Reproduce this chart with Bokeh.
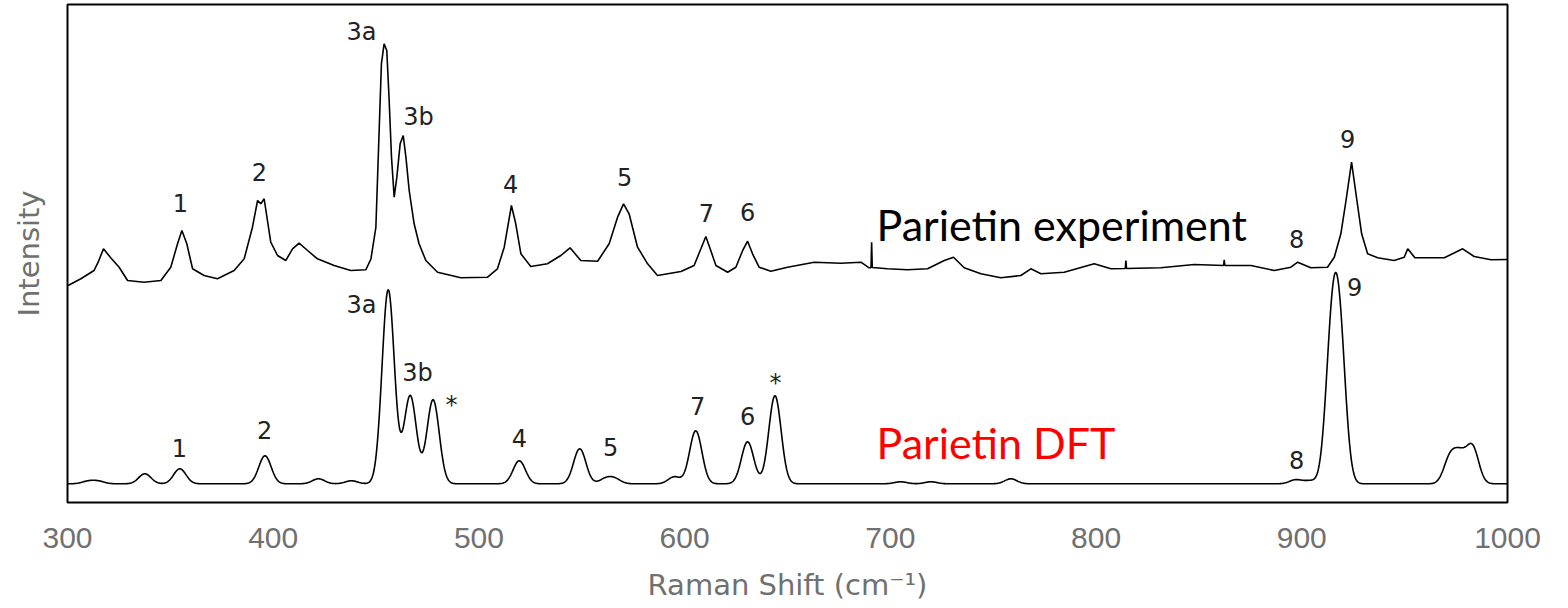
import numpy as np
from bokeh.plotting import figure
from bokeh.models import FixedTicker, Range1d, ColumnDataSource
from bokeh.core.properties import value
from bokeh.embed import file_html
from bokeh.resources import INLINE

# ---------------- data ----------------
exp_shift = [300.3, 306.5, 312.9, 314.9, 317.5, 321.0, 325.1, 329.2, 337.2, 345.4,
             350.2, 353.5, 355.6, 358.0, 360.8, 366.4, 372.9, 381.0, 385.9, 389.9,
             392.4, 394.0, 395.6, 397.2, 398.8, 402.1, 406.1, 409.4, 412.6, 416.7,
             421.5, 429.6, 437.7, 445.0, 447.5, 449.9, 451.5, 452.6, 453.9, 455.2,
             456.3, 457.5, 458.8, 460.1, 461.7, 463.2, 464.5, 466.1, 468.5, 470.9,
             474.2, 479.9, 491.2, 504.2, 509.0, 512.3, 515.8, 517.9, 520.4, 525.2,
             533.3, 539.8, 544.3, 549.5, 557.7, 563.3, 567.4, 570.3, 573.0, 577.1,
             582.0, 586.8, 598.2, 604.6, 607.9, 610.3, 612.7, 615.2, 620.9, 624.9,
             628.2, 630.6, 633.0, 636.2, 641.9, 650.0, 663.0, 675.9, 685.7, 689.7,
             690.6, 690.9, 691.2, 698.6, 708.4, 718.1, 726.2, 730.7, 735.9, 744.0,
             753.7, 763.4, 768.3, 773.2, 784.5, 799.1, 807.2, 814.2, 814.5, 814.8,
             831.5, 847.7, 862.0, 862.3, 862.6, 875.3, 886.6, 894.7, 898.0, 904.4,
             912.5, 915.8, 919.0, 921.5, 924.2, 926.8, 929.1, 932.0, 936.9, 944.9,
             949.8, 951.5, 955.0, 969.3, 978.2, 983.8, 992.0, 1000.0]
exp_intensity = [217.0, 223.7, 232.0, 240.3, 253.7, 244.7, 235.3, 222.0, 220.3, 222.0,
                 235.3, 258.7, 272.0, 258.7, 233.7, 227.0, 223.7, 232.0, 243.7, 275.3,
                 302.0, 298.7, 303.7, 282.0, 260.3, 247.0, 242.0, 253.7, 259.3, 252.0,
                 243.7, 237.0, 232.0, 232.7, 243.5, 275.0, 372.0, 438.7, 458.7, 452.0,
                 405.3, 345.3, 305.3, 325.3, 358.7, 367.0, 345.3, 312.0, 278.7, 258.7,
                 242.0, 230.3, 224.7, 225.3, 233.7, 255.3, 297.0, 278.7, 248.7, 236.0,
                 238.7, 247.0, 254.7, 242.0, 241.3, 258.7, 285.3, 298.7, 288.7, 255.3,
                 238.7, 227.0, 231.0, 237.0, 253.7, 266.0, 252.0, 237.0, 230.3, 235.3,
                 252.0, 261.3, 248.7, 235.3, 231.3, 235.3, 240.3, 239.3, 240.3, 234.7,
                 234.7, 260.3, 235.0, 233.7, 232.7, 233.7, 242.0, 245.3, 234.7, 228.7,
                 224.7, 227.0, 233.7, 228.7, 230.3, 238.7, 233.7, 234.0, 242.0, 234.0,
                 234.7, 238.0, 237.0, 242.7, 237.0, 237.0, 232.0, 235.3, 240.3, 234.7,
                 235.3, 245.3, 268.7, 302.0, 340.3, 302.0, 268.7, 248.7, 244.7, 242.0,
                 245.3, 253.7, 244.7, 244.7, 253.7, 246.0, 242.7, 243.0]

# DFT spectrum: computed Raman lines (position, relative height), Gaussian-broadened
dft_line_shift = [310.0, 315.0, 337.6, 354.6, 396.0, 422.0, 438.0, 455.9, 466.6, 477.7,
                  519.6, 549.0, 561.5, 566.0, 595.0, 605.4, 630.6, 643.9, 705.0, 719.7,
                  758.6, 897.0, 904.0, 914.5, 918.5, 972.0, 977.0, 983.0]
dft_line_height = [2.5, 2.5, 10.0, 15.0, 28.0, 5.0, 3.0, 194.0, 88.0, 84.0,
                   23.0, 35.0, 4.8, 4.8, 7.0, 53.0, 42.0, 88.0, 2.0, 2.0,
                   5.0, 4.0, 3.0, 132.0, 132.0, 25.0, 25.0, 36.0]
DFT_OFFSET = 18.7
DFT_SIGMA = 3.0

x_ticks = [300, 400, 500, 600, 700, 800, 900, 1000]

exp_labels = ["1", "2", "3a", "3b", "4", "5", "7", "6", "8", "9"]
exp_label_x = [354.9, 393.3, 442.9, 470.6, 515.4, 570.8, 610.6, 630.6, 897.5, 922.3]
exp_label_y = [300, 331, 471, 386, 319, 326, 290, 291, 264, 364]

dft_labels = ["1", "2", "3a", "3b", "*", "4", "5", "7", "6", "*", "8", "9"]
dft_label_x = [354.4, 395.8, 442.9, 470.1, 486.7, 519.7, 564.0, 606.3, 630.6, 644.2, 897.5, 925.7]
dft_label_y = [55, 73, 198, 130, 98, 65, 56, 97, 87, 120, 43, 216]

series_names = ["Parietin experiment", "Parietin DFT"]
series_name_x = [693.3, 693.3]
series_name_y = [278, 60]
series_name_color = ["#000000", "#ff0000"]

# ---------------- build curves ----------------
grid = np.arange(300.0, 1000.001, 0.25)
dft_curve = np.full_like(grid, DFT_OFFSET)
for c, h in zip(dft_line_shift, dft_line_height):
    dft_curve += h * np.exp(-((grid - c) ** 2) / (2 * DFT_SIGMA ** 2))

p = figure(frame_width=1440, frame_height=498,
           x_range=Range1d(300, 1000), y_range=Range1d(0, 498),
           output_backend="svg", toolbar_location=None,
           min_border_left=67, min_border_right=50, min_border_top=4, min_border_bottom=0,
           background_fill_color="white", border_fill_color="white")
p.grid.visible = False
p.outline_line_color = "black"
p.outline_line_width = 2

p.line(exp_shift, exp_intensity, line_color="black", line_width=1.6)
p.line(grid, dft_curve, line_color="black", line_width=1.6)

p.text(exp_label_x, exp_label_y, text=exp_labels, text_font=value("DejaVu Sans"),
       text_font_size="24px", text_align="center", text_baseline="alphabetic",
       text_color="#222222")
p.text(dft_label_x, dft_label_y, text=dft_labels, text_font=value("DejaVu Sans"),
       text_font_size="24px", text_align="center", text_baseline="alphabetic",
       text_color="#222222")
src = ColumnDataSource(dict(x=series_name_x, y=series_name_y, t=series_names, c=series_name_color))
p.text("x", "y", text="t", text_color="c", source=src, text_font=value("Lato"),
       text_font_size="43px", text_align="left", text_baseline="alphabetic")

# x axis
xa = p.xaxis[0]
xa.ticker = FixedTicker(ticks=x_ticks)
xa.axis_line_color = None
xa.major_tick_line_color = None
xa.minor_tick_line_color = None
xa.major_tick_out = 0
xa.major_label_standoff = 25
xa.major_label_text_font = "Liberation Sans"
xa.major_label_text_font_size = "30px"
xa.major_label_text_color = "#707070"
xa.axis_label = "Raman Shift (cm\u207b\u00b9)"
xa.axis_label_text_font = "DejaVu Sans"
xa.axis_label_text_font_size = "29px"
xa.axis_label_text_font_style = "normal"
xa.axis_label_text_color = "#707070"
xa.axis_label_standoff = 17

# y axis
ya = p.yaxis[0]
ya.ticker = FixedTicker(ticks=[])
ya.axis_line_color = None
ya.major_tick_line_color = None
ya.minor_tick_line_color = None
ya.major_tick_out = 0
ya.major_label_standoff = 0
ya.axis_label = "Intensity"
ya.axis_label_text_font = "DejaVu Sans"
ya.axis_label_text_font_size = "29px"
ya.axis_label_text_font_style = "normal"
ya.axis_label_text_color = "#707070"
ya.axis_label_standoff = 22

open("out.html", "w").write(file_html(p, INLINE))
